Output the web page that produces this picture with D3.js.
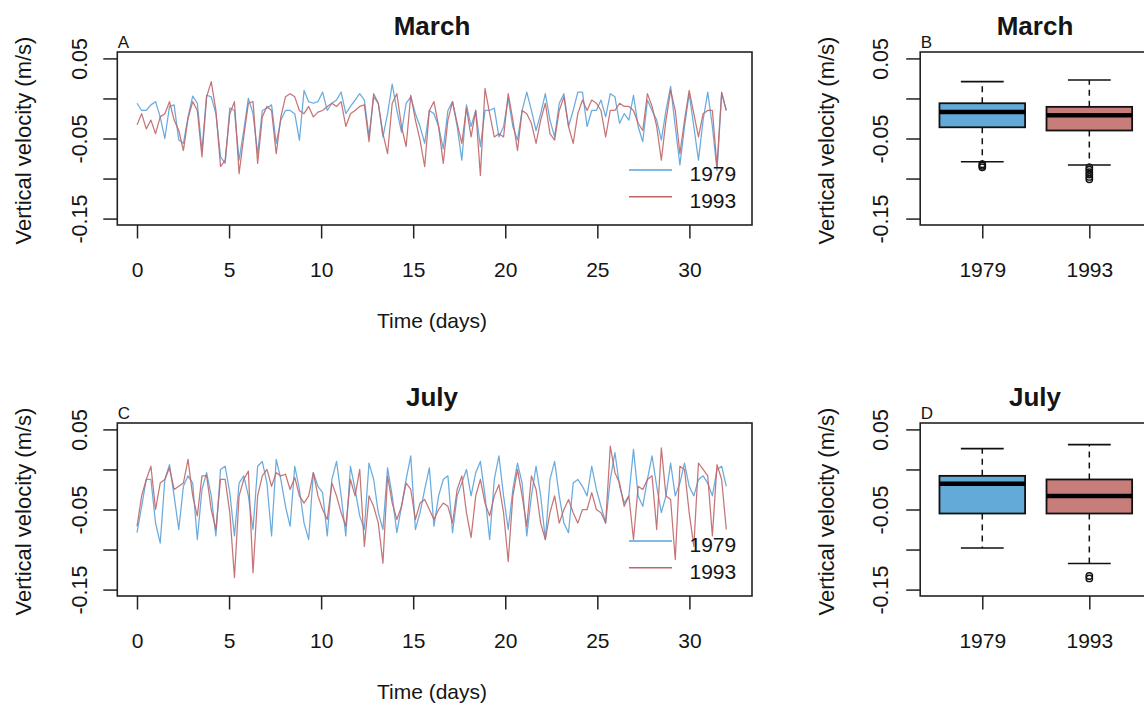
<!DOCTYPE html>
<html>
<head>
<meta charset="utf-8">
<script src="https://cdnjs.cloudflare.com/ajax/libs/d3/7.8.5/d3.min.js"></script>
<style>
body { margin: 0; background: #fff; }
svg text { font-family: Arial, "Liberation Sans", sans-serif; fill: #151515; }
</style>
</head>
<body>
<svg width="1144" height="709"></svg>
<script>
// vertical velocity (m/s), one value every timeStep days
const timeStep = 0.252;

const marchW1979 = [
 -0.006,-0.015,-0.015,-0.008,-0.004,-0.023,-0.05,-0.01,-0.008,-0.052,
 -0.056,-0.023,0.003,-0.006,-0.065,0.004,0.002,-0.019,-0.073,-0.081,
 -0.012,-0.015,-0.077,-0.04,0,-0.019,-0.069,-0.015,-0.012,-0.008,
 -0.056,-0.027,-0.015,-0.015,-0.019,-0.052,0.010,-0.004,-0.006,-0.004,
 0.008,-0.015,-0.006,-0.002,0.008,-0.019,-0.01,-0.002,0.006,-0.002,
 -0.048,0.002,-0.006,-0.048,-0.019,0.018,-0.015,-0.042,-0.006,0.002,
 -0.019,-0.035,-0.056,-0.015,-0.019,-0.035,-0.063,-0.015,-0.004,-0.035,
 -0.077,-0.008,-0.035,-0.015,-0.06,-0.015,-0.015,-0.012,-0.048,-0.035,
 0,-0.035,-0.052,-0.015,0.008,-0.015,-0.04,-0.019,0.006,-0.027,
 -0.048,-0.006,0.006,-0.035,-0.015,0.008,0.008,-0.035,-0.015,-0.015,
 -0.002,-0.023,0.006,0.002,-0.031,-0.019,-0.027,0.004,-0.035,-0.054,
 -0.002,-0.015,-0.027,-0.052,-0.015,0.015,-0.035,-0.083,-0.035,0.006,
 -0.035,-0.077,-0.027,0.008,-0.035,-0.09,0.006,-0.015
];
const marchW1993 = [
 -0.033,-0.019,-0.038,-0.027,-0.044,-0.023,-0.019,-0.004,-0.027,-0.04,
 -0.065,-0.025,-0.004,-0.015,-0.073,0.002,0.021,-0.015,-0.085,-0.077,
 -0.019,-0.004,-0.094,-0.048,-0.006,-0.004,-0.081,-0.023,-0.01,-0.015,
 -0.069,-0.023,0.002,0.006,0.002,-0.015,-0.019,-0.01,-0.023,-0.017,
 -0.015,-0.01,-0.006,-0.01,-0.004,-0.035,-0.019,-0.015,-0.01,-0.008,
 -0.054,0.006,-0.006,-0.044,-0.069,-0.006,0.006,-0.035,-0.06,0.004,
 -0.027,-0.052,-0.085,-0.015,-0.004,-0.035,-0.081,-0.027,-0.004,-0.031,
 -0.056,-0.012,-0.048,-0.015,-0.096,0.0125,-0.019,-0.048,-0.044,-0.048,
 0.006,-0.027,-0.065,-0.015,-0.019,-0.031,-0.056,-0.027,-0.006,-0.044,
 -0.052,-0.015,0.002,-0.035,-0.056,-0.019,-0.002,-0.015,-0.002,-0.006,
 -0.015,-0.048,-0.015,-0.015,-0.006,-0.01,-0.01,-0.015,-0.031,-0.04,
 0.006,-0.01,-0.035,-0.077,-0.027,0.010,-0.015,-0.069,-0.027,0.010,
 -0.019,-0.048,-0.019,-0.015,-0.015,-0.085,0.008,-0.015
];
const julyW1979 = [
 -0.079,-0.046,-0.0125,-0.0125,-0.067,-0.092,-0.0125,0.006,-0.033,-0.075,
 -0.021,-0.008,-0.017,-0.0875,-0.025,-0.004,-0.033,-0.083,0,0.004,
 -0.029,-0.083,-0.017,-0.008,-0.033,-0.075,0.004,0.010,-0.017,-0.083,
 0.0125,-0.0125,-0.046,-0.071,0.004,-0.025,-0.067,-0.0875,-0.004,-0.021,
 -0.029,-0.083,-0.0125,0.010,-0.033,-0.083,0.004,-0.025,-0.058,-0.075,
 0.008,-0.0125,-0.054,-0.075,0.002,-0.033,-0.079,-0.046,-0.0125,0.017,
 -0.075,-0.054,-0.025,0.002,-0.071,-0.033,-0.0125,-0.008,-0.079,-0.033,
 -0.017,0,-0.033,-0.004,0.010,-0.033,-0.0875,-0.0125,0.017,-0.033,
 -0.075,-0.025,0.008,-0.017,-0.083,-0.033,0.004,-0.033,-0.0875,-0.0125,
 0.010,-0.033,-0.067,-0.079,-0.017,-0.0125,-0.021,-0.033,0.004,-0.025,
 -0.046,-0.067,-0.0125,0.021,-0.021,-0.042,-0.033,0.025,-0.033,-0.046,
 -0.0125,0.017,-0.021,-0.054,-0.033,0.008,-0.033,-0.017,0.008,-0.021,
 -0.033,-0.0125,-0.008,-0.017,-0.033,0,0.004,-0.021
];
const julyW1993 = [
 -0.071,-0.033,-0.0125,0.004,-0.05,-0.017,-0.0125,0.002,-0.025,-0.021,
 -0.017,0.0125,-0.033,-0.058,-0.008,-0.008,-0.05,-0.075,-0.0125,-0.0125,
 -0.054,-0.135,-0.033,-0.0125,-0.002,-0.129,-0.033,-0.008,0,-0.021,
 -0.004,-0.008,-0.006,-0.025,-0.010,-0.033,-0.042,-0.033,-0.004,-0.033,
 -0.05,-0.0625,-0.017,-0.033,-0.054,-0.071,-0.0125,-0.033,0,-0.096,
 -0.033,-0.046,-0.067,-0.117,-0.008,-0.042,-0.0625,-0.046,-0.017,-0.025,
 -0.0625,-0.042,-0.0375,-0.05,-0.0625,-0.05,-0.042,-0.046,-0.067,-0.025,
 -0.008,-0.054,-0.085,-0.033,-0.0125,-0.042,-0.058,-0.033,-0.019,-0.054,
 -0.115,-0.033,0,-0.033,-0.071,-0.008,-0.025,-0.067,-0.0875,-0.054,
 -0.033,-0.067,-0.05,-0.0375,-0.054,-0.067,-0.05,-0.05,-0.029,-0.05,
 -0.054,-0.067,0.029,-0.004,-0.017,-0.046,-0.033,-0.0875,-0.021,-0.025,
 -0.0125,-0.008,-0.075,0.027,-0.033,-0.0375,-0.1125,0.004,0,-0.054,
 -0.096,0.008,0,-0.008,-0.083,0.006,-0.0125,-0.075
];

// boxplot stats: [lower whisker, Q1, median, Q3, upper whisker]
const years = ["1979", "1993"];
const marchBoxStats = [[-0.079, -0.036, -0.017, -0.006, 0.021], [-0.083, -0.040, -0.021, -0.0105, 0.023]];
const marchOutliers = [[-0.082, -0.084, -0.086], [-0.086, -0.089, -0.092, -0.095, -0.098, -0.101]];
const julyBoxStats = [[-0.098, -0.055, -0.018, -0.008, 0.026], [-0.1175, -0.055, -0.033, -0.0125, 0.031]];
const julyOutliers = [[], [-0.133, -0.136]];

const yTicks = [-0.15, -0.1, -0.05, 0, 0.05];
const yTickLabels = {"-0.15": "-0.15", "-0.05": "-0.05", "0.05": "0.05"};
const xTicks = [0, 5, 10, 15, 20, 25, 30];

const lineColors = ["#5aa2da", "#bf6668"];
const boxFills = ["#64aad8", "#c77e7b"];

const svg = d3.select("svg");

function yAxis(g, y, left, labelOffset, titleX, top, bottom) {
  const ax = g.append("g").attr("transform", "translate(" + left + ",0)")
    .call(d3.axisLeft(y).tickValues(yTicks).tickSize(14)
      .tickFormat(d => yTickLabels[String(d)] || ""));
  ax.select(".domain").remove();
  ax.selectAll("line").attr("stroke", "#222").attr("stroke-width", 1.5);
  ax.selectAll("text")
    .attr("x", 0).attr("y", -labelOffset).attr("dy", null)
    .attr("transform", "rotate(-90)")
    .attr("text-anchor", "middle")
    .style("font-size", "21.5px").attr("fill", "#151515");
  g.append("text")
    .attr("transform", "translate(" + titleX + "," + ((top + bottom) / 2 + 2) + ") rotate(-90)")
    .attr("text-anchor", "middle")
    .style("font-size", "22px")
    .text("Vertical velocity (m/s)");
}

function bottomAxis(g, x, ticks, fmt, bottom) {
  const ax = g.append("g").attr("transform", "translate(0," + bottom + ")")
    .call(d3.axisBottom(x).tickValues(ticks).tickSize(13.5).tickFormat(fmt));
  ax.select(".domain").remove();
  ax.selectAll("line").attr("stroke", "#222").attr("stroke-width", 1.5);
  ax.selectAll("text").attr("y", 52).attr("dy", null)
    .style("font-size", "21px").attr("fill", "#151515");
}

function frame(g, x0, x1, y0, y1) {
  g.append("rect").attr("x", x0).attr("y", y0)
    .attr("width", x1 - x0).attr("height", y1 - y0)
    .attr("fill", "none").attr("stroke", "#222").attr("stroke-width", 1.6);
}

function headings(g, title, letter, cx, x0, top) {
  g.append("text").attr("x", cx).attr("y", top - 17)
    .attr("text-anchor", "middle").style("font-size", "26px").style("font-weight", "bold")
    .attr("fill", "#000").text(title);
  g.append("text").attr("x", x0 + 0.5).attr("y", top - 4)
    .style("font-size", "17px").text(letter);
}

function seriesPanel(top, title, letter, series) {
  const left = 117.3, right = 752, bottom = top + 173;
  const g = svg.append("g");
  const x = d3.scaleLinear().domain([-1.07, 33.4]).range([left, right]);
  const y = d3.scaleLinear().domain([-0.158, 0.058]).range([bottom, top]);

  const line = d3.line().x((d, i) => x(i * timeStep)).y(d => y(d));
  series.forEach((s, k) => {
    g.append("path").datum(s).attr("d", line)
      .attr("fill", "none").attr("stroke", lineColors[k])
      .attr("stroke-width", 1.25).attr("stroke-opacity", 0.9)
      .attr("stroke-linejoin", "round");
  });

  frame(g, left, right, top, bottom);
  yAxis(g, y, left, 30, 30.5, top, bottom);
  bottomAxis(g, x, xTicks, d3.format("d"), bottom);
  g.append("text").attr("x", 432).attr("y", bottom + 103)
    .attr("text-anchor", "middle").style("font-size", "21px").text("Time (days)");
  headings(g, title, letter, 432, left, top);

  // legend, bottom right, no box
  const leg = g.append("g");
  years.forEach((yr, k) => {
    const ly = bottom - 55 + k * 26.7;
    leg.append("line").attr("x1", 629).attr("x2", 672).attr("y1", ly).attr("y2", ly)
      .attr("stroke", lineColors[k]).attr("stroke-width", 1.4);
    leg.append("text").attr("x", 689.5).attr("y", ly + 11)
      .style("font-size", "21px").text(yr);
  });
}

function boxPanel(top, title, letter, stats, outliers) {
  const left = 920.2, right = 1151.4, bottom = top + 173;
  const g = svg.append("g");
  const x = d3.scaleLinear().domain([0.42, 2.58]).range([left, right]);
  const y = d3.scaleLinear().domain([-0.158, 0.058]).range([bottom, top]);
  const boxW = x(0.8) - x(0), capW = x(0.4) - x(0);

  stats.forEach((s, k) => {
    const cx = x(k + 1);
    const [lo, q1, med, q3, hi] = s;
    g.append("line").attr("x1", cx).attr("x2", cx).attr("y1", y(q3)).attr("y2", y(hi))
      .attr("stroke", "#111").attr("stroke-width", 1.5).attr("stroke-dasharray", "6,5");
    g.append("line").attr("x1", cx).attr("x2", cx).attr("y1", y(q1)).attr("y2", y(lo))
      .attr("stroke", "#111").attr("stroke-width", 1.5).attr("stroke-dasharray", "6,5");
    [lo, hi].forEach(v => {
      g.append("line").attr("x1", cx - capW / 2).attr("x2", cx + capW / 2)
        .attr("y1", y(v)).attr("y2", y(v)).attr("stroke", "#111").attr("stroke-width", 1.6);
    });
    g.append("rect").attr("x", cx - boxW / 2).attr("y", y(q3))
      .attr("width", boxW).attr("height", y(q1) - y(q3))
      .attr("fill", boxFills[k]).attr("stroke", "#111").attr("stroke-width", 1.8);
    g.append("line").attr("x1", cx - boxW / 2).attr("x2", cx + boxW / 2)
      .attr("y1", y(med)).attr("y2", y(med)).attr("stroke", "#000").attr("stroke-width", 4.5);
    g.selectAll(null).data(outliers[k]).enter().append("circle")
      .attr("cx", cx).attr("cy", d => y(d)).attr("r", 3.2)
      .attr("fill", "none").attr("stroke", "#111").attr("stroke-width", 1.4);
  });

  frame(g, left, right, top, bottom);
  yAxis(g, y, left, 32, 834, top, bottom);
  bottomAxis(g, x, [1, 2], d => years[d - 1], bottom);
  headings(g, title, letter, 1035, left, top);
}

seriesPanel(52, "March", "A", [marchW1979, marchW1993]);
boxPanel(52, "March", "B", marchBoxStats, marchOutliers);
seriesPanel(423, "July", "C", [julyW1979, julyW1993]);
boxPanel(423, "July", "D", julyBoxStats, julyOutliers);
</script>
</body>
</html>
